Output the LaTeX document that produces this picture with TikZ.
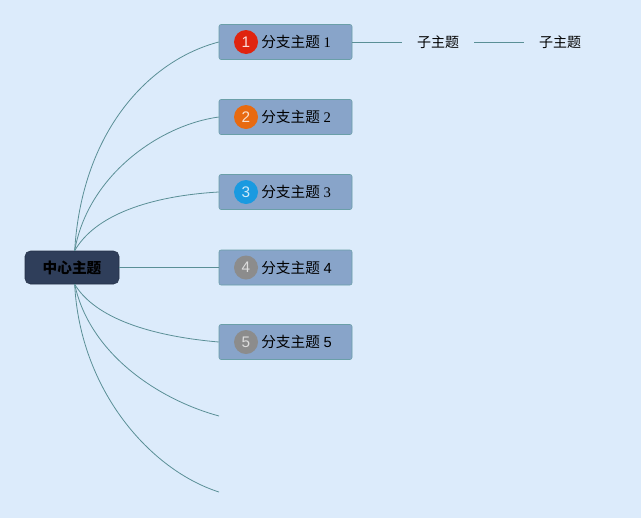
\documentclass[tikz,border=0pt]{standalone}
\usepackage{fontspec}
\setmainfont{Liberation Serif}
\newfontfamily\cjk{Noto Sans CJK SC}
\newfontfamily\numsans{Liberation Sans}
\usepackage{tikz}

\definecolor{bgblue}{HTML}{DCEBFB}
\definecolor{centerfill}{HTML}{2F3E5A}
\definecolor{branchfill}{HTML}{88A4C9}
\definecolor{branchline}{HTML}{6A9FA8}
\definecolor{linkcol}{HTML}{5A8F96}
\definecolor{numred}{HTML}{E0240F}
\definecolor{numorange}{HTML}{E86A10}
\definecolor{numblue}{HTML}{1A9AE0}
\definecolor{numgrey}{HTML}{8C8C8C}

\tikzset{
  centertopic/.style={shape=rectangle, rounded corners=4pt, fill=centerfill, draw=centerfill!80!black,
    minimum width=70.5pt, minimum height=24.75pt, font=\cjk\bfseries\fontsize{11}{13}\selectfont, text=black},
  branchtopic/.style={shape=rectangle, rounded corners=1.5pt, fill=branchfill, draw=branchline,
    minimum width=99.75pt, minimum height=26.25pt},
  numdot/.style={shape=circle, minimum size=18pt, inner sep=0pt, font=\numsans\fontsize{11.5}{13}\selectfont},
  branchtext/.style={anchor=west, inner sep=0pt, font=\fontsize{11}{13}\selectfont},
  subtopic/.style={inner xsep=11.25pt, inner ysep=2pt, font=\cjk\fontsize{10.5}{12}\selectfont},
  link/.style={draw=linkcol, line width=0.6pt}
}

\begin{document}
\begin{tikzpicture}[x=0.75pt, y=-0.75pt]
\fill[bgblue] (0,0) rectangle (641,518);
\useasboundingbox (0,0) rectangle (641,518);

\node[centertopic](center) at (72,267.5) {中心主题};

\node[branchtopic](b1) at (285.5,42) {};
\node[branchtopic](b2) at (285.5,117) {};
\node[branchtopic](b3) at (285.5,192) {};
\node[branchtopic](b4) at (285.5,267.5) {};
\node[branchtopic](b5) at (285.5,342) {};

\node[numdot, fill=numred, text=white!85!numred](n1) at (246,42) {1};
\node[numdot, fill=numorange, text=white!80!numorange](n2) at (246,117) {2};
\node[numdot, fill=numblue, text=white!80!numblue](n3) at (246,192) {3};
\node[numdot, fill=numgrey, text=white!70!numgrey](n4) at (246,267.5) {4};
\node[numdot, fill=numgrey, text=white!70!numgrey](n5) at (246,342) {5};

\node[branchtext](t1) at (261,42) {{\cjk 分支主题} 1};
\node[branchtext](t2) at (261,117) {{\cjk 分支主题} 2};
\node[branchtext](t3) at (261,192) {{\cjk 分支主题} 3};
\node[branchtext](t4) at (261,267.5) {{\cjk 分支主题} {\numsans 4}};
\node[branchtext](t5) at (261,342) {{\cjk 分支主题} {\numsans 5}};

\node[subtopic](s1) at (438,42) {子主题};
\node[subtopic](s2) at (560,42) {子主题};

\coordinate (f1) at (219,416);
\coordinate (f2) at (219,492);

% links from the centre
\draw[link] ([xshift=2pt]center.north) .. controls (82,130) and (150,60) .. (b1.west);
\draw[link] ([xshift=2pt]center.north) .. controls (88,175) and (160,125) .. (b2.west);
\draw[link] ([xshift=2pt]center.north) .. controls (95,215) and (150,196) .. (b3.west);
\draw[link] (center.east) -- (b4.west);
\draw[link] ([xshift=2pt]center.south) .. controls (95,318) and (150,336) .. (b5.west);
\draw[link] ([xshift=2pt]center.south) .. controls (90,355) and (160,400) .. (f1);
\draw[link] ([xshift=2pt]center.south) .. controls (80,390) and (150,470) .. (f2);

\draw[link] (b1.east) -- (s1.west);
\draw[link] (s1.east) -- (s2.west);
\end{tikzpicture}
\end{document}
